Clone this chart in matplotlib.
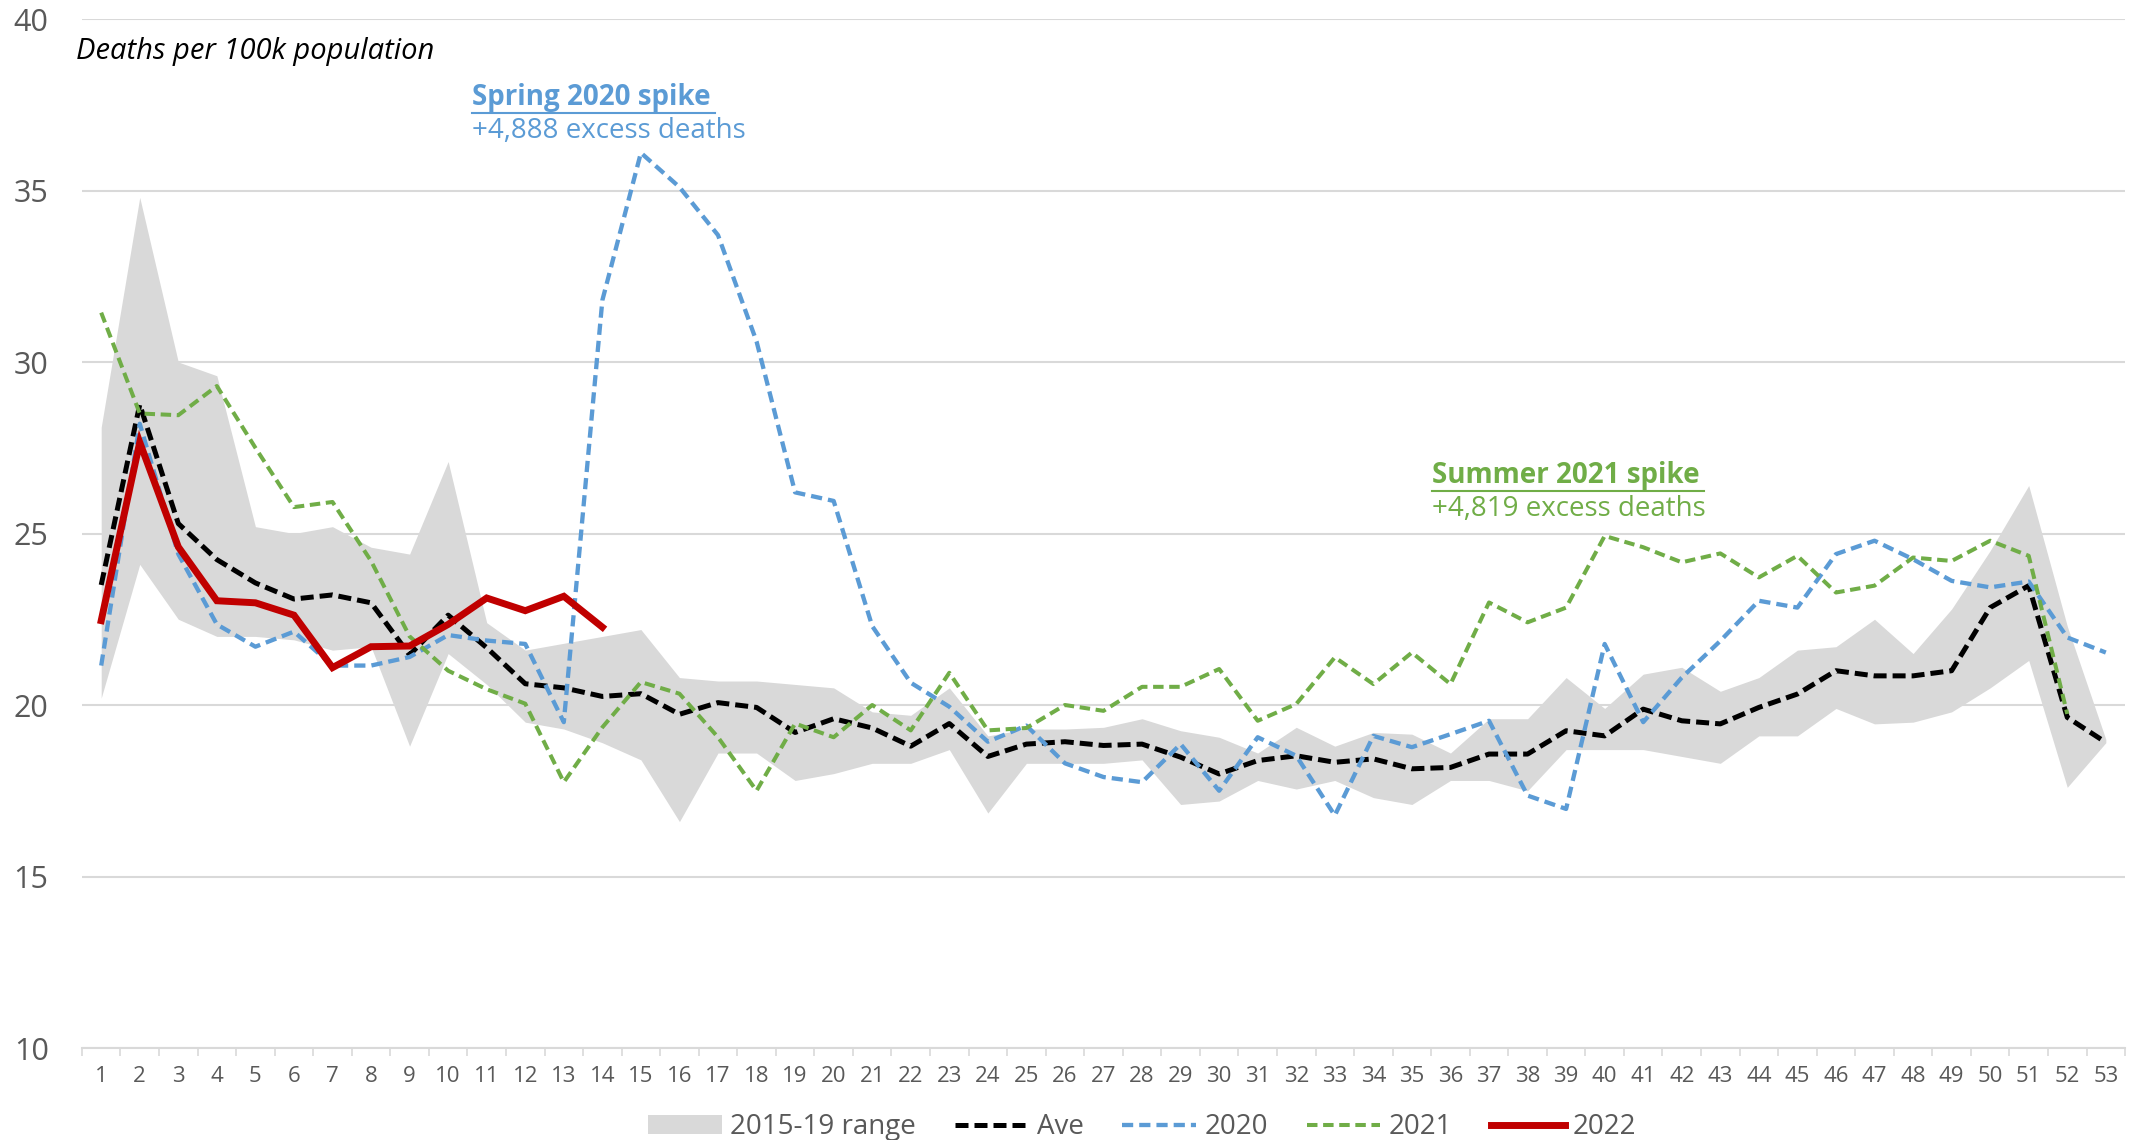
import numpy as np
import matplotlib.pyplot as plt
from matplotlib.lines import Line2D

plt.rcParams['font.family'] = ['Open Sans', 'DejaVu Sans']

weeks = list(range(1, 54))

range_hi = [28.1, 34.8, 30.0, 29.6, 25.2, 25.0, 25.2, 24.6, 24.4, 27.1,
            22.4, 21.6, 21.8, 22.0, 22.2, 20.8, 20.7, 20.7, 20.6, 20.5,
            19.8, 19.7, 20.5, 19.1, 19.3, 19.3, 19.35, 19.6, 19.25, 19.06,
            18.6, 19.35, 18.8, 19.2, 19.15, 18.6, 19.6, 19.6, 20.8, 19.9,
            20.9, 21.1, 20.4, 20.8, 21.6, 21.7, 22.5, 21.5, 22.8, 24.5,
            26.4, 22.3, 19.0]
range_lo = [20.2, 24.1, 22.5, 22.0, 22.0, 21.9, 21.6, 21.7, 18.8, 21.5,
            20.6, 19.5, 19.3, 18.9, 18.4, 16.6, 18.6, 18.6, 17.8, 18.0,
            18.3, 18.3, 18.7, 16.85, 18.3, 18.3, 18.3, 18.4, 17.1, 17.2,
            17.8, 17.55, 17.8, 17.3, 17.1, 17.8, 17.8, 17.5, 18.7, 18.7,
            18.7, 18.5, 18.3, 19.1, 19.1, 19.9, 19.45, 19.5, 19.8, 20.5,
            21.3, 17.6, 18.9]
ave = [23.5, 28.76, 25.29, 24.24, 23.56, 23.09, 23.21, 22.98, 21.46, 22.62,
       21.67, 20.62, 20.5, 20.25, 20.33, 19.73, 20.07, 19.93, 19.2, 19.6,
       19.33, 18.8, 19.46, 18.5, 18.86, 18.93, 18.82, 18.86, 18.48, 17.99,
       18.38, 18.52, 18.33, 18.43, 18.14, 18.18, 18.57, 18.57, 19.25, 19.1,
       19.88, 19.54, 19.45, 19.93, 20.32, 21.0, 20.85, 20.85, 21.0, 22.84,
       23.48, 19.64, 18.91]
y2020 = [21.15, 28.2, 24.4, 22.35, 21.7, 22.14, 21.15, 21.15, 21.4, 22.04,
         21.88, 21.78, 19.5, 31.8, 36.1, 35.1, 33.7, 30.6, 26.2, 25.95,
         22.3, 20.65, 19.95, 18.93, 19.4, 18.3, 17.9, 17.75, 18.86, 17.5,
         19.06, 18.52, 16.78, 19.1, 18.77, 19.15, 19.54, 17.36, 16.97, 21.78,
         19.5, 20.8, 21.87, 23.04, 22.84, 24.4, 24.79, 24.25, 23.62, 23.43,
         23.6, 21.97, 21.53]
y2021 = [31.44, 28.5, 28.45, 29.3, 27.5, 25.77, 25.92, 24.2, 22.0, 21.0,
         20.46, 20.04, 17.75, 19.35, 20.67, 20.33, 19.06, 17.5, 19.46, 19.06,
         20.0, 19.26, 20.94, 19.26, 19.33, 20.0, 19.83, 20.53, 20.53, 21.05,
         19.54, 20.03, 21.39, 20.61, 21.53, 20.61, 22.99, 22.41, 22.84, 24.93,
         24.6, 24.16, 24.42, 23.72, 24.35, 23.28, 23.48, 24.3, 24.2, 24.79,
         24.35, 19.74]
y2022 = [22.46, 27.66, 24.61, 23.04, 22.98, 22.62, 21.09, 21.7, 21.72, 22.35,
         23.12, 22.75, 23.17, 22.27]

BLUE = "#5B9BD5"
GREEN = "#70AD47"
RED = "#C00000"
GRAY_TXT = "#595959"

fig = plt.figure(figsize=(21.39, 11.40), dpi=100)
ax = fig.add_axes([0.0383, 0.0807, 0.9552, 0.9026])

ax.fill_between(weeks, range_lo, range_hi, color="#D9D9D9", linewidth=0,
                label="2015-19 range", zorder=1)
ax.plot(weeks, ave, color="black", linewidth=3.6, dashes=(2.6, 1.2),
        label="Ave", zorder=3)
ax.plot(weeks[:len(y2020)], y2020, color=BLUE, linewidth=3.1, dashes=(2.6, 1.4),
        label="2020", zorder=4)
ax.plot(weeks[:len(y2021)], y2021, color=GREEN, linewidth=2.9, dashes=(2.6, 1.4),
        label="2021", zorder=5)
ax.plot(weeks[:len(y2022)], y2022, color=RED, linewidth=5,
        label="2022", zorder=6, solid_joinstyle="miter")

ax.set_xlim(0.5, 53.5)
ax.set_ylim(10, 40)
ax.set_yticks(range(10, 41, 5))
ax.set_xticks(weeks)
ax.set_xticks(np.arange(0.5, 54, 1), minor=True)
ax.grid(axis="y", color="#D9D9D9", linewidth=1.5, zorder=0)
ax.set_axisbelow(True)
for s in ["top", "right", "left"]:
    ax.spines[s].set_visible(False)
ax.spines["bottom"].set_color("#D9D9D9")
ax.spines["bottom"].set_linewidth(1.5)
ax.tick_params(axis="y", length=0, pad=24, labelsize=22, labelcolor=GRAY_TXT)
ax.tick_params(axis="x", which="major", length=0, pad=13, labelsize=16,
               labelcolor=GRAY_TXT)
ax.tick_params(axis="x", which="minor", length=6, width=1.2, color="#D9D9D9")

ax.text(0.35, 38.83, "Deaths per 100k population", fontsize=21, style="italic",
        color="black", clip_on=False)

t1 = ax.text(10.62, 37.5, "Spring 2020 spike", fontsize=20, fontweight="bold",
             color=BLUE)
ax.text(10.62, 36.53, "+4,888 excess deaths", fontsize=20, color=BLUE)
t2 = ax.text(35.52, 26.47, "Summer 2021 spike", fontsize=20, fontweight="bold",
             color=GREEN)
ax.text(35.52, 25.51, "+4,819 excess deaths", fontsize=20, color=GREEN)

leg = fig.legend(loc="center", bbox_to_anchor=(0.534, 0.011), ncol=5,
                 frameon=False, fontsize=20, handlelength=2.65, columnspacing=1.4,
                 handletextpad=0.3, labelcolor=GRAY_TXT)

# underline the two headings
fig.canvas.draw()
r = fig.canvas.get_renderer()
for t, c in [(t1, BLUE), (t2, GREEN)]:
    bb = t.get_window_extent(renderer=r)
    y = bb.y0 - 1
    fig.add_artist(Line2D([bb.x0 / fig.bbox.width, (bb.x1 + 4) / fig.bbox.width],
                          [y / fig.bbox.height, y / fig.bbox.height],
                          color=c, linewidth=1.5))

fig.savefig("out.png", dpi=100)
